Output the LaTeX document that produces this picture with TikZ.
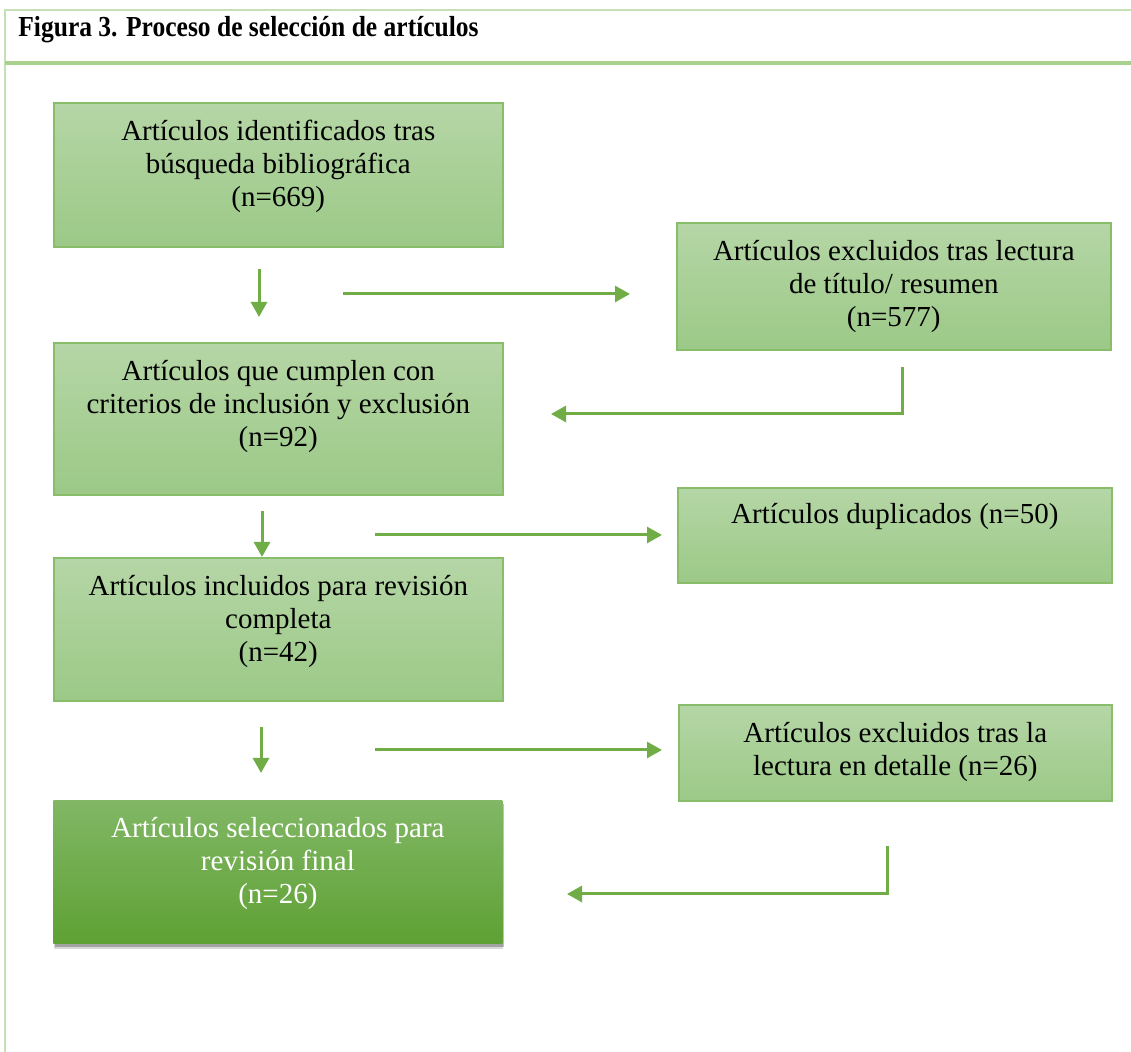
\documentclass[tikz,border=0pt]{standalone}
\usepackage{fontspec}
\setmainfont{Liberation Serif}
\newfontfamily\titlefont[FakeStretch=0.88]{Liberation Serif}
\usepackage{xcolor}
\usetikzlibrary{positioning}
\usetikzlibrary{arrows.meta,shadows}

\definecolor{framelight}{HTML}{C5E0B4}
\definecolor{framerule}{HTML}{A9D18E}
\definecolor{boxtop}{HTML}{B5D6A6}
\definecolor{boxbottom}{HTML}{9CC987}
\definecolor{boxline}{HTML}{88BE6A}
\definecolor{finaltop}{HTML}{81B765}
\definecolor{finalbottom}{HTML}{5FA134}
\definecolor{flowgreen}{HTML}{70AD47}

\begin{document}
\begin{tikzpicture}[x=0.5pt, y=-0.5pt,
every node/.style = {font=\fontsize{14.5pt}{16.5pt}\selectfont},
  stage/.style = {draw=boxline, line width=0.8pt, rectangle, anchor=north west,
    top color=boxtop, bottom color=boxbottom, minimum width=#1},
  final/.style = {rectangle, anchor=north west, minimum width=224.5pt,
    top color=finaltop, bottom color=finalbottom,
    drop shadow={shadow xshift=0.5pt, shadow yshift=-3pt, opacity=0.15, fill=black},
    drop shadow={shadow xshift=0.8pt, shadow yshift=-1.8pt, opacity=0.25, fill=black}},
  txt/.style = {align=center, inner sep=0pt},
  flow/.style = {draw=flowgreen, line width=1.5pt, -{Triangle[length=7.5pt,width=8pt]}}
]
\useasboundingbox (0,0) rectangle (1131,1052);

% frame and title
\draw[framelight, line width=1pt] (5,1052) -- (5,10) -- (1131,10);
\draw[framerule, line width=2pt] (5,63) -- (1131,63);
\node[anchor=base west, inner sep=0pt, font=\titlefont\bfseries\fontsize{14.5pt}{16pt}\selectfont] (title) at (18,37)
  {Figura 3. Proceso de selección de artículos};

% boxes
\node[stage=224.5pt, minimum height=72pt] (ident) at (53,102) {};
\node[stage=217pt, minimum height=63.5pt] (cribado) at (676,222) {};
\node[stage=224.5pt, minimum height=76pt] (criterios) at (53,342) {};
\node[stage=217pt, minimum height=47.5pt] (duplic) at (677,487) {};
\node[stage=224.5pt, minimum height=71.5pt] (incluidos) at (53,557) {};
\node[stage=216.5pt, minimum height=48pt] (detalle) at (678,704) {};
\node[final, minimum height=71.5pt] (seleccion) at (53,800) {};

\node[txt, below=9pt of ident.north] (ident-t)
  {Artículos identificados tras\\búsqueda bibliográfica\\(n=669)};
\node[txt, below=9pt of cribado.north] (cribado-t)
  {Artículos excluidos tras lectura\\de título/ resumen\\(n=577)};
\node[txt, below=9pt of criterios.north] (criterios-t)
  {Artículos que cumplen con\\criterios de inclusión y exclusión\\(n=92)};
\node[txt, below=8pt of duplic.north] (duplic-t)
  {Artículos duplicados (n=50)};
\node[txt, below=9pt of incluidos.north] (incluidos-t)
  {Artículos incluidos para revisión\\completa\\(n=42)};
\node[txt, below=9pt of detalle.north] (detalle-t)
  {Artículos excluidos tras la\\lectura en detalle (n=26)};
\node[txt, text=white, below=8.5pt of seleccion.north] (seleccion-t)
  {Artículos seleccionados para\\revisión final\\(n=26)};

% arrows
\coordinate (down1a) at (259,269);
\coordinate (down1b) at (259,317);
\coordinate (side1a) at (343,294);
\coordinate (side1b) at (630,294);
\coordinate (back1a) at (902,367);
\coordinate (back1b) at (551,414);
\coordinate (down2a) at (262,511);
\coordinate (down2b) at (262,557);
\coordinate (side2a) at (375,535);
\coordinate (side2b) at (662,535);
\coordinate (down3a) at (261,727);
\coordinate (down3b) at (261,773);
\coordinate (side3a) at (375,750);
\coordinate (side3b) at (662,750);
\coordinate (back2a) at (887,846);
\coordinate (back2b) at (567,894);

\draw[flow] (down1a) -- (down1b);
\draw[flow] (side1a) -- (side1b);
\draw[flow] (back1a) |- (back1b);
\draw[flow] (down2a) -- (down2b);
\draw[flow] (side2a) -- (side2b);
\draw[flow] (down3a) -- (down3b);
\draw[flow] (side3a) -- (side3b);
\draw[flow] (back2a) |- (back2b);
\end{tikzpicture}
\end{document}
